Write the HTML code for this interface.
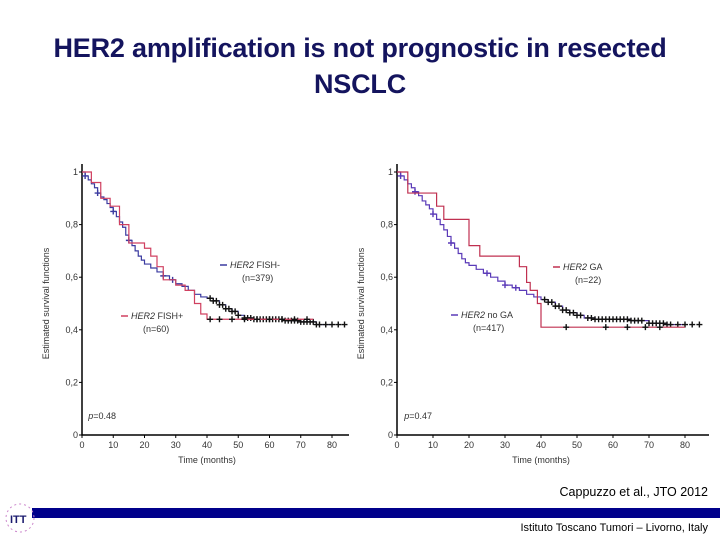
<!DOCTYPE html>
<html><head><meta charset="utf-8">
<style>
body{margin:0;width:720px;height:540px;background:#fff;overflow:hidden;position:relative;font-family:"Liberation Sans",sans-serif}
#title{position:absolute;left:0;top:30px;width:720px;text-align:center;font-size:27px;font-weight:bold;color:#14145e;line-height:36px;letter-spacing:-0.2px}
#cite{position:absolute;right:12px;top:485px;font-size:12.5px;color:#000}
#bar{position:absolute;left:32px;top:508px;width:688px;height:10px;background:#00008b}
#inst{position:absolute;right:12px;top:522px;font-size:11px;color:#000}
svg{position:absolute;left:0;top:0}
</style></head><body>
<div id="title">HER2 amplification is not prognostic in resected<br>NSCLC</div>
<svg id="chart" width="720" height="540"></svg>
<div id="cite">Cappuzzo et al., JTO 2012</div>
<div id="bar"></div>
<div id="inst">Istituto Toscano Tumori – Livorno, Italy</div>
<svg width="40" height="40" style="left:2px;top:500px">
<circle cx="18" cy="18" r="14" fill="none" stroke="#c8c" stroke-dasharray="2 3"/>
<text x="8" y="23" font-size="11" font-weight="bold" fill="#1a1a6e">ITT</text></svg>
<script>
const yTicks=[0,0.2,0.4,0.6,0.8,1];
const yTickLabels=["0","0,2","0,4","0,6","0,8","1"];
const xTicks=[0,10,20,30,40,50,60,70,80];
// left panel
const fishNegT=[0,1,2,3,4,5,6,7,8,9,10,11,12,13,14,15,16,17,18,19,20,22,24,26,28,30,32,34,36,38,40,42,44,46,48,50,52,55,60,65,70,75,80];
const fishNegS=[1,0.985,0.97,0.955,0.94,0.92,0.905,0.895,0.88,0.865,0.85,0.83,0.81,0.79,0.76,0.74,0.72,0.70,0.68,0.665,0.65,0.635,0.62,0.605,0.59,0.575,0.565,0.55,0.535,0.525,0.52,0.51,0.495,0.48,0.47,0.455,0.445,0.44,0.44,0.435,0.43,0.42,0.42];
const fishPosT=[0,3,6,9,12,15,20,22,24,26,30,33,36,38,40,74];
const fishPosS=[1,0.96,0.90,0.87,0.80,0.73,0.71,0.68,0.64,0.59,0.57,0.55,0.50,0.46,0.44,0.44];
const fishNegCens=[1,5,10,15,26,29,41,42,43,44,45,46,47,48,49,50,52,53,54,55,56,57,58,59,60,61,62,63,64,65,66,67,68,69,70,71,72,73,74,75,76,78,80,82,84];
const fishPosCens=[41,44,48,52,56,60,64,68,72];
// right panel
const noGaT=[0,1,2,3,4,5,6,7,8,9,10,11,12,13,14,15,16,17,18,19,20,22,24,26,28,30,32,34,36,38,40,42,44,46,48,50,52,55,60,65,70,75,80];
const noGaS=[1,0.985,0.97,0.955,0.94,0.925,0.91,0.89,0.875,0.86,0.84,0.82,0.80,0.78,0.755,0.73,0.71,0.69,0.67,0.655,0.645,0.63,0.615,0.60,0.585,0.57,0.56,0.55,0.535,0.525,0.515,0.505,0.49,0.475,0.465,0.455,0.445,0.44,0.44,0.435,0.425,0.42,0.42];
const gaT=[0,3,11,13,20,23,34,36,37,39,40,80];
const gaS=[1,0.92,0.87,0.82,0.72,0.68,0.64,0.58,0.55,0.50,0.41,0.41];
const noGaCens=[1,5,10,15,25,30,33,41,42,43,44,45,46,47,48,49,50,51,53,54,55,56,57,58,59,60,61,62,63,64,65,66,67,68,70,71,72,73,74,75,76,78,80,82,84];
const gaCens=[47,58,64,69,73];

const svg=document.getElementById('chart');
const NS='http://www.w3.org/2000/svg';
function el(tag,attrs,parent){const e=document.createElementNS(NS,tag);for(const k in attrs)e.setAttribute(k,attrs[k]);(parent||svg).appendChild(e);return e;}
function panel(p){
  const g=el('g',{});
  
  
  const X=t=>p.x0+t*p.sx, Y=s=>p.y0-s*(p.y0-p.y1);
  const ax=el('path',{d:`M${p.x0},${p.y1-8}V${p.y0}H${p.xEnd}`,stroke:'#000','stroke-width':1.5,fill:'none'},g);
  
  
  yTicks.forEach((v,i)=>{
    el('line',{x1:p.x0-3,x2:p.x0,y1:Y(v),y2:Y(v),stroke:'#000'},g);
    const t=el('text',{x:p.x0-4,y:Y(v)+3,'font-size':9,'text-anchor':'end',fill:'#333'},g);t.textContent=yTickLabels[i];
    
    
  });
  xTicks.forEach(v=>{
    el('line',{x1:X(v),x2:X(v),y1:p.y0,y2:p.y0+3,stroke:'#000'},g);
    const t=el('text',{x:X(v),y:p.y0+13,'font-size':9,'text-anchor':'middle',fill:'#333'},g);t.textContent=v;
    
    
  });
  const xt=el('text',{x:X(40),y:p.y0+28,'font-size':9,'text-anchor':'middle',fill:'#333'},g);xt.textContent='Time (months)';
  
  
  const yt=el('text',{x:0,y:0,'font-size':9,'text-anchor':'middle',fill:'#333',transform:`translate(${p.x0-33},${Y(0.5)}) rotate(-90)`},g);yt.textContent='Estimated survival functions';
  
  
  function curve(T,S,color,cens,name){
    let d=`M${X(T[0])},${Y(S[0])}`;
    for(let i=1;i<T.length;i++)d+=`H${X(T[i])}V${Y(S[i])}`;
    const c=el('path',{d,stroke:color,'stroke-width':1.2,fill:'none'},g);
    
    
    cens.forEach(t=>{
      let s=S[0];for(let i=0;i<T.length;i++)if(T[i]<=t)s=S[i];
      const m=el('path',{d:`M${X(t)-3},${Y(s)}h6M${X(t)},${Y(s)-3}v6`,stroke:t>40?'#111':color,'stroke-width':1.4},g);
      
      
    });
  }
  curve(p.aT,p.aS,p.aC,p.aCens,p.aName);
  curve(p.bT,p.bS,p.bC,p.bCens,p.bName);
  p.labels.forEach(l=>{
    el('line',{x1:l.x-10,x2:l.x-3,y1:l.y-3,y2:l.y-3,stroke:l.c,'stroke-width':1.5},g);
    const t=el('text',{x:l.x,y:l.y,'font-size':9,fill:'#333'},g);
    t.innerHTML=`<tspan font-style="italic">HER2</tspan> ${l.t}`;
    
    
    const n=el('text',{x:l.x+12,y:l.y+13,'font-size':9,fill:'#333'},g);n.textContent=l.n;
  });
  const pv=el('text',{x:X(2),y:Y(0.06),'font-size':9,fill:'#333'},g);
  pv.innerHTML=`<tspan font-style="italic">p</tspan>=${p.pval}`;
  
  
}
panel({name:'fish-panel',x0:82,y0:435,y1:172,sx:3.125,xEnd:349,
  aT:fishNegT,aS:fishNegS,aC:'#3b3ba0',aCens:fishNegCens,aName:'fish-negative-curve',
  bT:fishPosT,bS:fishPosS,bC:'#d04060',bCens:fishPosCens,bName:'fish-positive-curve',
  labels:[{x:230,y:268,t:'FISH-',c:'#3b3ba0',n:'(n=379)'},{x:131,y:319,t:'FISH+',c:'#d04060',n:'(n=60)'}],pval:'0.48'});
panel({name:'ga-panel',x0:397,y0:435,y1:172,sx:3.6,xEnd:709,
  aT:noGaT,aS:noGaS,aC:'#5a3ab8',aCens:noGaCens,aName:'no-ga-curve',
  bT:gaT,bS:gaS,bC:'#c03050',bCens:gaCens,bName:'ga-curve',
  labels:[{x:563,y:270,t:'GA',c:'#c03050',n:'(n=22)'},{x:461,y:318,t:'no GA',c:'#5a3ab8',n:'(n=417)'}],pval:'0.47'});
</script>
</body></html>
